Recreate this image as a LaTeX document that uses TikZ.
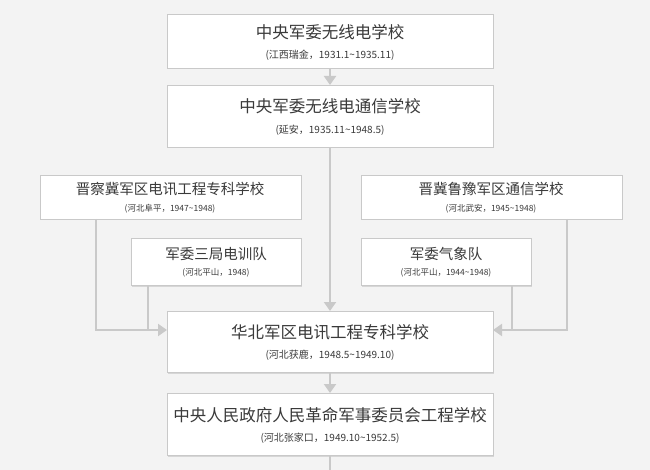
\documentclass[tikz,border=0pt]{standalone}
\usepackage{fontspec}
\setmainfont{Liberation Serif}
\newfontfamily\cjk{Noto Sans CJK SC}
\usetikzlibrary{arrows.meta,shadows}
\definecolor{bg}{HTML}{F3F3F3}
\definecolor{ln}{HTML}{C9C9C9}
\definecolor{tx}{HTML}{3A3A3A}
\begin{document}
\begin{tikzpicture}[x=1pt,y=-1pt,
  box/.style={draw=ln,fill=white,line width=0.8pt,drop shadow={shadow xshift=1pt,shadow yshift=-1.5pt,opacity=0.25},text=tx},
  conn/.style={draw=ln,line width=2pt,-{Triangle[length=9pt,width=12pt]}},
  plain/.style={draw=ln,line width=2pt},
  ttl/.style={font=\cjk\fontsize{16.5}{18}\selectfont,text=tx},
  sub/.style={font=\cjk\fontsize{10}{12}\selectfont,text=tx},
  ttls/.style={font=\cjk\fontsize{14.5}{16}\selectfont,text=tx},
  subs/.style={font=\cjk\fontsize{8.5}{10}\selectfont,text=tx}]
\fill[bg] (0,0) rectangle (650,470);
\useasboundingbox (0,0) rectangle (650,470);
% boxes
\path[box] (167,14) rectangle (493,68);
\path[box] (167,85) rectangle (493,147);
\path[box] (40,175) rectangle (301,219);
\path[box] (361,175) rectangle (622,219);
\path[box] (131,238) rectangle (301,285);
\path[box] (361,238) rectangle (531,285);
\path[box] (167,311) rectangle (493,372);
\path[box] (167,393) rectangle (493,455);
% named coordinates
\coordinate (b1) at (330,68);
\coordinate (b2t) at (330,85);
\coordinate (b2) at (330,147);
\coordinate (hbt) at (330,311);
\coordinate (hbb) at (330,372);
\coordinate (hbl) at (167,330);
\coordinate (hbr) at (493,330);
\coordinate (lt) at (330,393);
\coordinate (lb) at (330,455);
\coordinate (endc) at (330,470);
\coordinate (lbig) at (96,219);
\coordinate (lsm) at (148,285);
\coordinate (rbig) at (567,219);
\coordinate (rsm) at (512,285);
% connectors
\draw[conn] (b1) -- (b2t);
\draw[conn] (b2) -- (hbt);
\draw[conn] (hbb) -- (lt);
\draw[plain] (lb) -- (endc);
\draw[conn] (lbig) |- (hbl);
\draw[plain] (lsm) -- (148,330);
\draw[conn] (rbig) |- (hbr);
\draw[plain] (rsm) -- (512,330);
% texts
\node[ttl] (t1) at (330,32) {中央军委无线电学校};
\node[sub] (s1) at (330,55) {(江西瑞金，1931.1\textasciitilde1935.11)};
\node[ttl] (t2) at (330,106) {中央军委无线电通信学校};
\node[sub] (s2) at (330,130) {(延安，1935.11\textasciitilde1948.5)};
\node[ttls] (t3) at (170,189) {晋察冀军区电讯工程专科学校};
\node[subs] (s3) at (170,209) {(河北阜平，1947\textasciitilde1948)};
\node[ttls] (t4) at (491,189) {晋冀鲁豫军区通信学校};
\node[subs] (s4) at (491,209) {(河北武安，1945\textasciitilde1948)};
\node[ttls] (t5) at (216,254) {军委三局电训队};
\node[subs] (s5) at (216,273) {(河北平山，1948)};
\node[ttls] (t6) at (446,254) {军委气象队};
\node[subs] (s6) at (446,273) {(河北平山，1944\textasciitilde1948)};
\node[ttl] (t7) at (330,332) {华北军区电讯工程专科学校};
\node[sub] (s7) at (330,355) {(河北获鹿，1948.5\textasciitilde1949.10)};
\node[ttl] (t8) at (330,415) {中央人民政府人民革命军事委员会工程学校};
\node[sub] (s8) at (330,438) {(河北张家口，1949.10\textasciitilde1952.5)};
\end{tikzpicture}
\end{document}
